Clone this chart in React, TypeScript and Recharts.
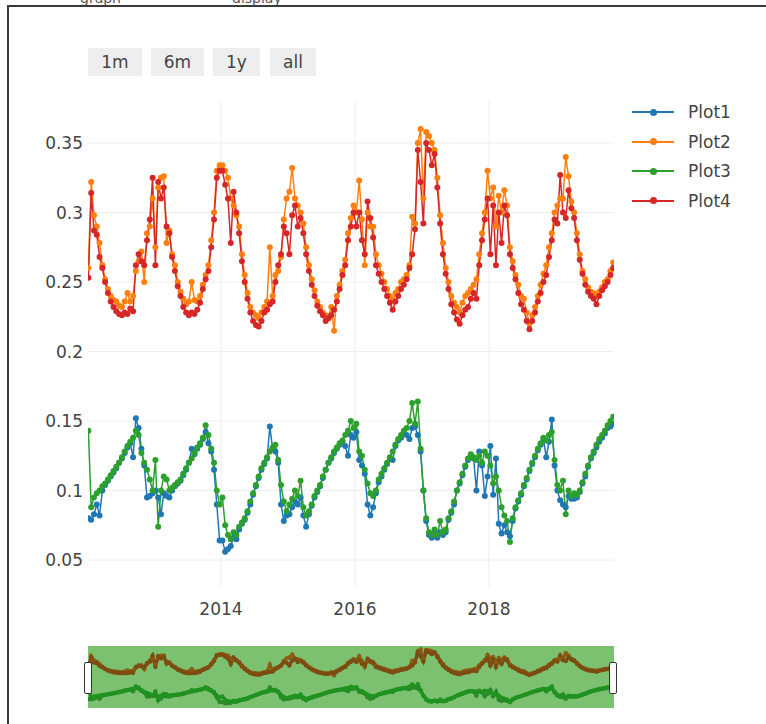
import React from 'react';
import { LineChart, Line, XAxis, YAxis, CartesianGrid } from 'recharts';

// Half-month samples starting Jan 2012 (24 per year)
const START_YEAR = 2012;
const STEPS_PER_YEAR = 24;

const plot1 = [
  // 2012
  0.08, 0.079, 0.083, 0.09, 0.082, 0.1, 0.104, 0.107, 0.11, 0.113, 0.116, 0.12, 0.123, 0.127, 0.131, 0.134, 0.124, 0.152, 0.145, 0.13, 0.118, 0.095, 0.096, 0.098,
  // 2013
  0.1, 0.095, 0.083, 0.098, 0.096, 0.095, 0.1, 0.103, 0.105, 0.107, 0.111, 0.115, 0.12, 0.13, 0.126, 0.13, 0.133, 0.137, 0.142, 0.134, 0.128, 0.115, 0.09, 0.064,
  // 2014
  0.064, 0.056, 0.058, 0.06, 0.066, 0.065, 0.072, 0.076, 0.079, 0.084, 0.09, 0.097, 0.103, 0.109, 0.115, 0.119, 0.123, 0.146, 0.13, 0.128, 0.12, 0.09, 0.078, 0.082,
  // 2015
  0.083, 0.088, 0.092, 0.09, 0.095, 0.082, 0.074, 0.083, 0.089, 0.095, 0.099, 0.103, 0.109, 0.115, 0.12, 0.123, 0.127, 0.13, 0.133, 0.135, 0.132, 0.125, 0.14, 0.138,
  // 2016
  0.142, 0.122, 0.118, 0.112, 0.09, 0.082, 0.088, 0.098, 0.106, 0.11, 0.115, 0.119, 0.123, 0.122, 0.132, 0.136, 0.138, 0.142, 0.14, 0.137, 0.145, 0.146, 0.14, 0.128,
  // 2017
  0.1, 0.078, 0.068, 0.066, 0.07, 0.066, 0.07, 0.068, 0.07, 0.079, 0.084, 0.09, 0.1, 0.105, 0.111, 0.117, 0.122, 0.125, 0.123, 0.1, 0.128, 0.118, 0.096, 0.11,
  // 2018
  0.132, 0.097, 0.123, 0.076, 0.069, 0.075, 0.07, 0.067, 0.078, 0.087, 0.092, 0.097, 0.103, 0.108, 0.114, 0.119, 0.124, 0.129, 0.133, 0.137, 0.124, 0.135, 0.151, 0.118,
  // 2019
  0.1, 0.093, 0.09, 0.088, 0.096, 0.094, 0.094, 0.095, 0.099, 0.105, 0.11, 0.117, 0.123, 0.127, 0.131, 0.135, 0.138, 0.141, 0.145, 0.146, 0.148,
];

const plot2 = [
  // 2012
  0.26, 0.322, 0.298, 0.29, 0.278, 0.262, 0.252, 0.245, 0.24, 0.237, 0.236, 0.233, 0.232, 0.236, 0.242, 0.236, 0.24, 0.258, 0.265, 0.272, 0.25, 0.285, 0.29, 0.31,
  // 2013
  0.275, 0.318, 0.325, 0.326, 0.278, 0.287, 0.27, 0.262, 0.25, 0.243, 0.238, 0.234, 0.236, 0.25, 0.237, 0.236, 0.24, 0.248, 0.255, 0.262, 0.28, 0.3, 0.33, 0.334,
  // 2014
  0.334, 0.33, 0.325, 0.31, 0.305, 0.298, 0.29, 0.27, 0.255, 0.242, 0.232, 0.228, 0.226, 0.224, 0.228, 0.232, 0.236, 0.275, 0.24, 0.255, 0.258, 0.268, 0.295, 0.31,
  // 2015
  0.315, 0.332, 0.31, 0.305, 0.3, 0.292, 0.275, 0.262, 0.252, 0.244, 0.236, 0.232, 0.228, 0.226, 0.225, 0.232, 0.215, 0.24, 0.248, 0.258, 0.266, 0.285, 0.296, 0.305,
  // 2016
  0.3, 0.323, 0.295, 0.262, 0.3, 0.29, 0.29, 0.27, 0.262, 0.256, 0.25, 0.245, 0.24, 0.237, 0.242, 0.245, 0.25, 0.252, 0.255, 0.262, 0.297, 0.292, 0.35, 0.36,
  // 2017
  0.31, 0.358, 0.355, 0.35, 0.345, 0.325, 0.298, 0.278, 0.26, 0.25, 0.24, 0.235, 0.232, 0.228, 0.235, 0.24, 0.242, 0.245, 0.248, 0.252, 0.27, 0.285, 0.3, 0.33,
  // 2018
  0.31, 0.318, 0.29, 0.312, 0.3, 0.316, 0.305, 0.275, 0.265, 0.255, 0.248, 0.24, 0.238, 0.228, 0.22, 0.226, 0.232, 0.24, 0.248, 0.256, 0.262, 0.275, 0.285, 0.3,
  // 2019
  0.305, 0.31, 0.31, 0.34, 0.326, 0.308, 0.3, 0.285, 0.27, 0.258, 0.252, 0.246, 0.243, 0.242, 0.24, 0.243, 0.246, 0.25, 0.252, 0.258, 0.264,
];

const plot3 = [
  // 2012
  0.143, 0.088, 0.095, 0.098, 0.1, 0.103, 0.105, 0.108, 0.111, 0.114, 0.117, 0.12, 0.124, 0.128, 0.132, 0.135, 0.138, 0.143, 0.14, 0.127, 0.12, 0.115, 0.108, 0.1,
  // 2013
  0.122, 0.074, 0.1, 0.11, 0.108, 0.1, 0.102, 0.104, 0.106, 0.108, 0.112, 0.116, 0.12, 0.123, 0.127, 0.131, 0.134, 0.138, 0.147, 0.14, 0.13, 0.12, 0.1, 0.09,
  // 2014
  0.095, 0.075, 0.068, 0.065, 0.07, 0.068, 0.074, 0.077, 0.08, 0.085, 0.092, 0.098, 0.104, 0.11, 0.116, 0.12, 0.124, 0.128, 0.131, 0.133, 0.122, 0.104, 0.092, 0.085,
  // 2015
  0.09, 0.094, 0.1, 0.096, 0.107, 0.088, 0.082, 0.085, 0.09, 0.096, 0.1, 0.104, 0.11, 0.115, 0.12, 0.124, 0.128, 0.131, 0.134, 0.136, 0.14, 0.143, 0.15, 0.145,
  // 2016
  0.148, 0.128, 0.125, 0.115, 0.105, 0.098, 0.096, 0.1, 0.108, 0.112, 0.116, 0.12, 0.124, 0.128, 0.133, 0.137, 0.14, 0.143, 0.145, 0.15, 0.163, 0.148, 0.164, 0.13,
  // 2017
  0.1, 0.08, 0.07, 0.068, 0.072, 0.068, 0.078, 0.07, 0.072, 0.08, 0.085, 0.092, 0.1, 0.106, 0.112, 0.118, 0.123, 0.126, 0.124, 0.122, 0.125, 0.12, 0.128, 0.125,
  // 2018
  0.118, 0.105, 0.11, 0.1, 0.088, 0.082, 0.078, 0.063, 0.08, 0.088, 0.093, 0.098, 0.104, 0.109, 0.115, 0.12, 0.125, 0.13, 0.134, 0.138, 0.136, 0.14, 0.142, 0.122,
  // 2019
  0.104, 0.1, 0.107, 0.083, 0.1, 0.096, 0.098, 0.097, 0.1, 0.106, 0.112, 0.118, 0.124, 0.128, 0.133, 0.137, 0.14, 0.143, 0.147, 0.15, 0.153,
];

const plot4 = [
  // 2012
  0.253, 0.314, 0.287, 0.284, 0.268, 0.26, 0.25, 0.242, 0.236, 0.232, 0.229, 0.227, 0.226, 0.228, 0.227, 0.231, 0.229, 0.262, 0.27, 0.265, 0.262, 0.28, 0.295, 0.325,
  // 2013
  0.262, 0.322, 0.31, 0.318, 0.29, 0.285, 0.268, 0.258, 0.247, 0.24, 0.232, 0.228, 0.226, 0.228, 0.227, 0.23, 0.235, 0.245, 0.252, 0.258, 0.275, 0.295, 0.325, 0.33,
  // 2014
  0.33, 0.32, 0.31, 0.278, 0.315, 0.3, 0.285, 0.265, 0.25, 0.238, 0.228, 0.222, 0.219, 0.218, 0.222, 0.228, 0.23, 0.234, 0.236, 0.25, 0.262, 0.27, 0.29, 0.285,
  // 2015
  0.27, 0.298, 0.305, 0.29, 0.296, 0.285, 0.27, 0.258, 0.248, 0.24, 0.233, 0.229, 0.226, 0.222, 0.224, 0.226, 0.23, 0.236, 0.245, 0.255, 0.262, 0.28, 0.29, 0.3,
  // 2016
  0.29, 0.3, 0.28, 0.27, 0.308, 0.296, 0.282, 0.262, 0.256, 0.25, 0.245, 0.24, 0.235, 0.23, 0.236, 0.24, 0.245, 0.248, 0.252, 0.26, 0.27, 0.288, 0.345, 0.322,
  // 2017
  0.292, 0.35, 0.345, 0.334, 0.342, 0.318, 0.292, 0.27, 0.256, 0.245, 0.234, 0.228, 0.223, 0.22, 0.226, 0.23, 0.232, 0.238, 0.242, 0.238, 0.262, 0.28, 0.295, 0.31,
  // 2018
  0.27, 0.305, 0.262, 0.3, 0.278, 0.305, 0.298, 0.27, 0.26, 0.252, 0.242, 0.234, 0.23, 0.222, 0.216, 0.222, 0.228, 0.236, 0.242, 0.25, 0.255, 0.268, 0.28, 0.295,
  // 2019
  0.292, 0.327, 0.3, 0.296, 0.316, 0.303, 0.296, 0.28, 0.266, 0.256, 0.248, 0.243, 0.24, 0.238, 0.234, 0.24, 0.244, 0.247, 0.25, 0.255, 0.26,
];

const seriesNames = ['Plot1', 'Plot2', 'Plot3', 'Plot4'];
const seriesColors = ['#1f77b4', '#ff7f0e', '#2ca02c', '#d62728'];
const sliderColors = ['#2b8a2b', '#8a5e14', '#1f921f', '#7c4c12'];
const xTicks = [2014, 2016, 2018];
const yTicks = [0.05, 0.1, 0.15, 0.2, 0.25, 0.3, 0.35];
const buttons = ['1m', '6m', '1y', 'all'];
const topLabels = ['graph', 'display'];

const X_DOMAIN: [number, number] = [2012.015, 2019.866];
const Y_DOMAIN: [number, number] = [0.03, 0.38];

const data = plot1.map((v, i) => ({
  t: START_YEAR + (i + 0.5) / STEPS_PER_YEAR,
  Plot1: v,
  Plot2: plot2[i],
  Plot3: plot3[i],
  Plot4: plot4[i],
}));

const FONT = '"DejaVu Sans", Verdana, sans-serif';

const buttonBoxes = [
  { left: 88, width: 54 },
  { left: 151, width: 53 },
  { left: 213, width: 47 },
  { left: 270, width: 46 },
];

export default function App() {
  return (
    <div
      style={{
        position: 'absolute',
        left: 0,
        top: 0,
        width: 766,
        height: 724,
        overflow: 'hidden',
        background: '#fff',
        fontFamily: FONT,
      }}
    >
      {/* page text above the frame (cut by the window edge in the original) */}
      <div style={{ position: 'absolute', top: -9, left: 80, fontSize: 14, lineHeight: '14px', color: '#555' }}>{topLabels[0]}</div>
      <div style={{ position: 'absolute', top: -9, left: 232, fontSize: 14, lineHeight: '14px', color: '#555' }}>{topLabels[1]}</div>
      {/* frame */}
      <div
        style={{
          position: 'absolute',
          left: 7,
          top: 5,
          width: 800,
          height: 800,
          borderLeft: '2px solid #3a3a3a',
          borderTop: '2px solid #3a3a3a',
        }}
      />

      {/* range selector buttons */}
      {buttons.map((b, i) => (
        <div
          key={b}
          style={{
            position: 'absolute',
            left: buttonBoxes[i].left,
            top: 48,
            width: buttonBoxes[i].width,
            height: 28,
            background: '#eeeeee',
            color: '#444',
            fontSize: 17,
            lineHeight: '28px',
            textAlign: 'center',
          }}
        >
          {b}
        </div>
      ))}

      {/* main chart */}
      <div style={{ position: 'absolute', left: 0, top: 0 }}>
        <LineChart
          width={766}
          height={724}
          data={data}
          margin={{ top: 101.3, right: 152, bottom: 106.2, left: 0 }}
        >
          <CartesianGrid
            stroke="#eeeeee"
            strokeWidth={1}
            horizontalValues={yTicks}
            verticalValues={xTicks}
          />
          <XAxis
            type="number"
            dataKey="t"
            domain={X_DOMAIN}
            allowDataOverflow
            ticks={xTicks}
            tickFormatter={(v: number) => String(v)}
            axisLine={false}
            tickLine={false}
            tickSize={0}
            tickMargin={15}
            height={30}
            tick={{ fill: '#444', fontSize: 17, fontFamily: FONT }}
          />
          <YAxis
            type="number"
            domain={Y_DOMAIN}
            allowDataOverflow
            ticks={yTicks}
            tickFormatter={(v: number) => String(v)}
            axisLine={false}
            tickLine={false}
            tickSize={0}
            tickMargin={5}
            width={88}
            tick={{ fill: '#444', fontSize: 17, fontFamily: FONT }}
          />
          {seriesNames.map((name, i) => (
            <Line
              key={name}
              type="linear"
              dataKey={name}
              stroke={seriesColors[i]}
              strokeWidth={1.5}
              dot={{ r: 3, fill: seriesColors[i], stroke: 'none' }}
              activeDot={false}
              isAnimationActive={false}
            />
          ))}
        </LineChart>
      </div>

      {/* legend */}
      {seriesNames.map((name, i) => {
        const cy = 112 + i * 29.5;
        return (
          <div key={name}>
            <div
              style={{
                position: 'absolute',
                left: 632,
                top: cy - 1,
                width: 42,
                height: 2,
                background: seriesColors[i],
              }}
            />
            <div
              style={{
                position: 'absolute',
                left: 650,
                top: cy - 3.5,
                width: 7,
                height: 7,
                borderRadius: '50%',
                background: seriesColors[i],
              }}
            />
            <div
              style={{
                position: 'absolute',
                left: 688,
                top: cy - 11,
                height: 22,
                lineHeight: '22px',
                fontSize: 17,
                color: '#444',
              }}
            >
              {name}
            </div>
          </div>
        );
      })}

      {/* range slider */}
      <div
        style={{
          position: 'absolute',
          left: 88,
          top: 646,
          width: 526,
          height: 62,
          background: '#7cc170',
        }}
      >
        <LineChart width={526} height={62} data={data} margin={{ top: 0, right: 0, bottom: 0, left: 0 }}>
          <XAxis type="number" dataKey="t" domain={X_DOMAIN} allowDataOverflow hide />
          <YAxis type="number" domain={Y_DOMAIN} allowDataOverflow hide width={0} />
          {seriesNames.map((name, i) => (
            <Line
              key={name}
              type="linear"
              dataKey={name}
              stroke={sliderColors[i]}
              strokeWidth={3.2}
              dot={{ r: 2.2, fill: sliderColors[i], stroke: 'none' }}
              activeDot={false}
              isAnimationActive={false}
            />
          ))}
        </LineChart>
      </div>
      <div
        style={{
          position: 'absolute',
          left: 84,
          top: 662,
          width: 6,
          height: 30,
          background: '#fff',
          border: '1px solid #333',
          borderRadius: 2,
        }}
      />
      <div
        style={{
          position: 'absolute',
          left: 609,
          top: 662,
          width: 6,
          height: 30,
          background: '#fff',
          border: '1px solid #333',
          borderRadius: 2,
        }}
      />
    </div>
  );
}
